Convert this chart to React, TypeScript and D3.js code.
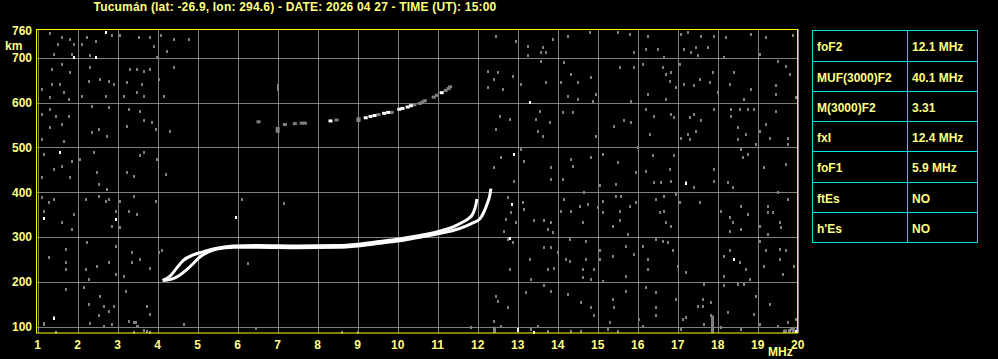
import React from "react";
import * as d3 from "d3";

const TITLE = "Tucumán (lat: -26.9, lon: 294.6) - DATE: 2026 04 27 - TIME (UT): 15:00";
const FREQ_TICKS = [1, 2, 3, 4, 5, 6, 7, 8, 9, 10, 11, 12, 13, 14, 15, 16, 17, 18, 19, 20];
const HEIGHT_TICKS = [100, 200, 300, 400, 500, 600, 700];
const TOP_LABEL = 760;

const PARAM_NAMES = ["foF2", "MUF(3000)F2", "M(3000)F2", "fxI", "foF1", "ftEs", "h'Es"];
const PARAM_VALUES = ["12.1 MHz", "40.1 MHz", "3.31", "12.4 MHz", "5.9 MHz", "NO", "NO"];

// Ordinary trace [MHz, km]
const O_TRACE: [number, number][] = [
  [4.12, 203], [4.3, 212], [4.46, 229], [4.64, 248], [4.89, 260], [5.14, 267], [5.48, 275],
  [5.9, 280], [6.5, 281], [7.5, 280], [8.5, 281], [9.0, 284], [9.55, 290], [10.0, 295],
  [10.4, 301], [11.0, 312], [11.4, 323], [11.64, 334], [11.77, 341], [11.89, 354], [11.95, 370], [11.98, 385],
];
// Extraordinary trace
const X_TRACE: [number, number][] = [
  [4.15, 203], [4.35, 206], [4.54, 214], [4.72, 227], [4.89, 241], [5.06, 256], [5.27, 267],
  [5.48, 273], [5.9, 277], [6.5, 277], [7.5, 276], [8.5, 277], [9.0, 280], [9.55, 286], [10.0, 291],
  [10.4, 297], [11.0, 307], [11.4, 315], [11.72, 325], [11.89, 332], [12.06, 341], [12.14, 353],
  [12.24, 375], [12.3, 392], [12.33, 408],
];
// Second hop echoes
const HOP2_STRONG: [number, number][] = [
  [8.32, 559], [9.2, 566], [9.32, 569], [9.42, 571], [9.66, 576], [9.76, 578], [10.04, 585],
  [10.12, 587], [10.25, 590], [10.33, 593], [11.1, 622],
];
const HOP2_WEAK: [number, number][] = [
  [6.52, 557], [7.0, 542], [7.0, 536], [7.18, 551], [7.43, 553], [7.6, 554], [7.68, 554],
  [8.47, 561], [9.02, 560], [9.02, 564], [9.52, 573], [9.85, 578], [10.42, 595], [10.55, 598],
  [10.62, 601], [10.68, 604], [10.9, 612], [10.98, 616], [11.2, 627], [11.27, 631], [11.31, 635],
];

// Background noise echoes [MHz, km]
const NOISE_GRAY: [number, number][] = [
  [1.29, 755], [1.58, 746], [1.79, 742], [1.47, 731], [1.87, 731], [1.37, 708], [1.83, 708], [2.29, 706],
  [2.08, 731], [2.21, 746], [2.42, 738], [2.83, 751], [3.04, 751], [3.5, 746], [3.87, 727], [3.79, 746],
  [4.06, 751], [4.37, 742], [4.75, 742], [3.96, 701], [4.21, 716], [1.33, 675], [1.58, 686], [1.79, 667],
  [1.33, 641], [1.54, 641], [1.08, 630], [1.62, 623], [1.75, 608], [1.29, 612], [2.29, 679], [2.25, 649],
  [2.54, 653], [2.75, 649], [2.87, 641], [2.67, 615], [2.08, 615], [3.29, 675], [3.46, 675], [3.62, 671],
  [3.79, 675], [3.21, 645], [3.46, 623], [3.58, 641], [3.62, 615], [3.12, 615], [4.0, 653], [4.12, 615],
  [4.37, 679], [1.29, 586], [1.08, 574], [1.42, 571], [1.75, 571], [1.58, 552], [1.29, 545], [1.08, 519],
  [1.62, 515], [2.33, 593], [2.75, 589], [2.33, 534], [2.5, 541], [2.71, 526], [3.25, 586], [3.54, 582],
  [3.21, 548], [3.62, 560], [3.92, 541], [3.83, 556], [4.29, 537], [1.12, 485], [1.58, 459], [1.83, 470],
  [1.37, 452], [1.79, 433], [1.08, 433], [2.46, 444], [2.04, 474], [2.37, 489], [2.5, 418], [2.71, 407],
  [3.54, 482], [3.62, 489], [3.21, 444], [3.37, 437], [3.96, 474], [4.17, 441], [1.08, 389], [1.25, 378],
  [1.12, 359], [1.37, 385], [1.87, 351], [1.58, 333], [1.83, 318], [2.17, 385], [2.5, 392], [2.67, 381],
  [2.75, 385], [2.92, 359], [2.83, 325], [3.04, 381], [3.25, 359], [3.46, 351], [3.04, 322], [3.37, 392],
  [3.92, 381], [1.25, 255], [1.67, 273], [1.67, 244], [1.67, 229], [2.21, 288], [2.46, 236], [2.17, 229],
  [2.25, 206], [2.75, 244], [2.92, 281], [2.92, 218], [3.33, 266], [3.33, 244], [3.54, 251], [3.79, 232],
  [3.12, 214], [4.0, 266], [4.08, 270], [1.67, 184], [1.12, 106], [1.37, 121], [2.12, 188], [2.25, 151],
  [2.54, 169], [2.62, 147], [2.75, 136], [2.87, 147], [2.5, 125], [3.17, 180], [3.25, 113], [3.42, 110],
  [3.71, 147], [3.79, 128], [3.46, 102], [4.62, 106], [3.71, 91],
  [6.08, 385], [7.13, 377], [6.23, 243], [6.98, 640], [6.98, 635], [6.98, 630],
  [1.12, 108], [1.43, 89], [2.27, 108], [2.64, 102], [2.83, 106], [3.39, 111], [3.47, 102], [3.39, 89],
  [3.64, 93], [3.77, 89], [4.62, 106], [6.43, 96], [8.57, 89], [8.97, 89], [11.81, 99],
  [12.43, 749], [12.93, 738], [13.23, 727], [13.6, 723], [13.85, 742], [13.68, 712], [13.56, 712], [13.23, 705],
  [14.14, 690], [14.23, 749], [14.77, 757], [15.48, 757], [15.77, 753], [15.89, 712], [12.23, 671], [12.48, 667],
  [12.85, 660], [12.23, 634], [12.39, 653], [12.6, 630], [13.06, 641], [13.56, 693], [13.68, 645], [14.06, 645],
  [14.31, 664], [14.48, 645], [14.81, 656], [14.93, 619], [14.23, 615], [14.48, 608], [14.85, 604], [15.81, 604],
  [15.89, 679], [15.52, 679], [12.52, 571], [12.77, 563], [12.43, 541], [13.43, 563], [13.52, 582], [13.77, 556],
  [13.48, 537], [13.6, 526], [14.1, 578], [14.35, 578], [14.93, 526], [15.39, 548], [15.64, 560], [15.81, 556],
  [15.98, 500], [13.06, 496], [12.56, 478], [12.39, 456], [12.89, 426], [13.14, 470], [13.81, 456], [13.81, 429],
  [14.1, 429], [14.31, 474], [14.35, 459], [14.81, 478], [15.1, 485], [15.48, 467], [15.02, 415], [15.93, 444],
  [15.43, 418], [12.73, 389], [12.81, 355], [12.68, 340], [12.93, 333], [12.64, 314], [13.1, 378], [13.14, 363],
  [13.39, 337], [13.64, 337], [13.81, 333], [13.85, 311], [13.73, 318], [14.06, 359], [14.14, 385], [14.31, 359],
  [14.52, 370], [14.64, 400], [14.73, 374], [14.6, 333], [14.98, 366], [15.1, 381], [15.1, 355], [15.35, 325],
  [15.43, 392], [15.56, 392], [15.77, 370], [15.93, 378], [15.52, 359], [15.52, 337], [15.73, 307], [12.73, 296],
  [12.85, 288], [13.64, 277], [13.81, 277], [13.27, 251], [13.98, 266], [14.18, 251], [14.27, 247], [14.68, 251],
  [14.6, 229], [14.89, 229], [14.27, 296], [14.68, 292], [15.02, 270], [15.68, 281], [15.89, 262], [15.35, 258],
  [15.02, 251], [12.77, 229], [13.31, 206], [13.73, 229], [13.89, 232], [14.6, 210], [14.81, 206], [15.1, 203],
  [15.68, 214], [12.43, 169], [12.48, 158], [12.73, 143], [12.39, 113], [13.18, 177], [13.64, 192], [13.81, 180],
  [14.23, 173], [14.56, 154], [14.81, 143], [14.89, 125], [15.35, 162], [15.39, 143], [15.27, 110], [15.68, 180],
  [16.0, 117], [12.56, 102], [13.31, 95], [13.48, 102], [13.73, 91], [14.31, 91], [14.56, 91], [15.23, 95],
  [15.48, 91],
  [16.22, 749], [17.06, 753], [17.22, 757], [17.43, 723], [17.56, 749], [17.89, 749], [18.18, 746], [18.81, 753],
  [19.18, 746], [19.85, 751], [16.18, 720], [16.47, 720], [16.64, 701], [17.14, 720], [17.31, 712], [17.47, 705],
  [17.72, 723], [18.14, 701], [19.02, 708], [19.47, 693], [19.68, 682], [16.1, 686], [16.6, 679], [16.68, 664],
  [16.81, 667], [17.02, 686], [16.77, 649], [16.93, 634], [17.14, 641], [17.39, 638], [17.52, 653], [17.77, 645],
  [17.85, 667], [17.98, 623], [18.27, 641], [18.39, 667], [18.81, 630], [18.64, 608], [19.43, 638], [19.43, 619],
  [19.77, 664], [19.93, 612], [16.22, 619], [16.68, 608], [16.18, 586], [16.39, 571], [16.81, 574], [16.89, 567],
  [17.27, 567], [17.39, 574], [17.56, 560], [17.22, 530], [17.27, 519], [17.06, 522], [17.43, 537], [17.89, 586],
  [18.31, 586], [18.52, 586], [18.72, 586], [18.89, 586], [18.31, 571], [18.47, 545], [18.47, 519], [18.68, 530],
  [18.93, 508], [19.02, 537], [19.18, 552], [19.27, 522], [19.43, 582], [19.72, 522], [19.72, 508], [16.27, 530],
  [16.89, 482], [16.35, 482], [16.18, 448], [16.39, 422], [16.56, 422], [16.81, 426], [16.77, 452], [17.18, 422],
  [17.39, 411], [17.89, 452], [17.89, 426], [18.22, 422], [18.35, 411], [18.56, 496], [18.72, 485], [18.6, 478],
  [19.14, 456], [19.68, 463], [16.64, 392], [16.43, 385], [16.52, 355], [16.64, 359], [16.68, 333], [16.81, 325],
  [16.93, 396], [17.02, 378], [17.52, 378], [18.06, 359], [18.27, 344], [18.35, 333], [18.56, 318], [18.56, 370],
  [18.72, 351], [19.22, 355], [19.35, 355], [19.22, 370], [19.52, 333], [19.56, 322], [19.22, 307], [19.47, 400],
  [19.72, 385], [19.02, 325], [18.27, 314], [16.43, 296], [16.6, 292], [16.72, 288], [16.85, 270], [16.1, 281],
  [16.22, 251], [16.22, 229], [16.97, 236], [17.18, 221], [17.64, 195], [18.14, 258], [18.14, 214], [18.27, 270],
  [18.52, 244], [18.68, 229], [18.77, 206], [19.02, 292], [19.18, 270], [19.14, 236], [19.52, 273], [19.52, 251],
  [19.68, 270], [19.89, 236], [19.6, 218], [16.18, 188], [16.43, 177], [16.43, 143], [16.43, 125], [16.93, 162],
  [17.1, 117], [17.18, 121], [17.47, 147], [17.6, 162], [17.6, 147], [17.81, 154], [17.81, 125], [18.14, 192],
  [18.22, 132], [18.47, 195], [18.64, 195], [18.93, 169], [18.89, 128], [19.27, 151], [19.47, 102], [19.72, 110],
  [19.93, 117], [16.1, 102], [17.06, 95], [17.64, 106], [18.06, 99], [18.56, 95], [19.02, 106], [19.64, 91],
  [19.81, 95],
];
const NOISE_WHITE: [number, number][] = [
  [1.87, 701], [2.43, 701], [2.68, 757], [1.52, 489], [1.12, 342], [2.92, 340], [1.37, 119], [5.93, 345],
  [12.88, 485], [12.83, 374], [12.77, 297], [13.28, 602], [12.98, 95], [13.38, 89], [12.97, 93],
  [17.18, 420], [18.37, 251], [19.92, 91],
];
// Vertical noise streaks [MHz, km from, km to]
const STREAKS: [number, number, number][] = [
  [17.82, 86, 125], [12.39, 86, 100], [19.65, 86, 94], [19.75, 86, 95], [19.85, 86, 98], [19.95, 86, 100],
];

const W = 998;
const H = 359;
const YELLOW = "#ffff80";
const BORDER = "#ffff00";
const GRID = "#808080";
const CYAN = "#00e4e4";
const FONT = "'Liberation Sans', Arial, sans-serif";

export default function App() {
  const x = d3.scaleLinear().domain([1, 20]).range([37.7, 797.7]);
  const y = d3.scaleLinear().domain([100, 700]).range([326.7, 57.7]);
  const yBottom = 333;
  const yTop = y(TOP_LABEL) - 1.5;

  const line = d3
    .line<[number, number]>()
    .x((d) => x(d[0]))
    .y((d) => y(d[1]))
    .curve(d3.curveMonotoneX);

  const tableX0 = 812.5;
  const tableX1 = 977.5;
  const tableMid = 907.5;
  const rowEdges = [30.5, 61.5, 91.5, 121.5, 151.5, 182.5, 212.5, 242.5];

  return (
    <svg
      width={W}
      height={H}
      style={{ position: "absolute", left: 0, top: 0, background: "#000" }}
      fontFamily={FONT}
      fontWeight="bold"
    >
      <rect x={0} y={0} width={W} height={H} fill="#000" />
      <text x={295} y={11} fill={YELLOW} fontSize={12} letterSpacing={0.2} textAnchor="middle">
        {TITLE}
      </text>

      {/* grid */}
      {FREQ_TICKS.map((f) => (
        <line key={"gv" + f} x1={Math.round(x(f)) + 0.5} x2={Math.round(x(f)) + 0.5} y1={yTop} y2={yBottom} stroke={GRID} strokeWidth={1} />
      ))}
      {HEIGHT_TICKS.map((h) => (
        <line key={"gh" + h} x1={36} x2={798} y1={Math.round(y(h)) + 0.5} y2={Math.round(y(h)) + 0.5} stroke={GRID} strokeWidth={1} />
      ))}

      {/* noise */}
      {NOISE_GRAY.map((d, i) => (
        <rect key={"ng" + i} x={Math.round(x(d[0]))} y={Math.round(y(d[1])) - 1} width={2} height={3} fill={GRID} />
      ))}
      {STREAKS.map((d, i) => (
        <rect key={"st" + i} x={Math.round(x(d[0]))} y={y(d[2])} width={3} height={Math.min(y(d[1]), yBottom) - y(d[2])} fill={GRID} />
      ))}
      {NOISE_WHITE.map((d, i) => (
        <rect key={"nw" + i} x={Math.round(x(d[0]))} y={Math.round(y(d[1])) - 1} width={2} height={3} fill="#fff" />
      ))}

      {/* second hop */}
      {HOP2_WEAK.map((d, i) => (
        <rect key={"hw" + i} x={x(d[0]) - 2} y={y(d[1]) - 1.5} width={4} height={3} fill={GRID} />
      ))}
      {HOP2_STRONG.map((d, i) => (
        <rect key={"hs" + i} x={x(d[0]) - 2} y={y(d[1]) - 1.5} width={4} height={3} fill="#fff" />
      ))}

      {/* traces */}
      <path d={line(X_TRACE) || ""} fill="none" stroke="#fff" strokeWidth={3} />
      <path d={line(O_TRACE) || ""} fill="none" stroke="#fff" strokeWidth={3} />

      {/* frame */}
      <rect x={36.5} y={29.5} width={761} height={303.5} fill="none" stroke={BORDER} strokeWidth={1} />

      {/* y labels */}
      {HEIGHT_TICKS.map((h) => (
        <text key={"yl" + h} x={32} y={y(h)} dy="0.36em" fill={YELLOW} fontSize={12} textAnchor="end">
          {h}
        </text>
      ))}
      <text x={32} y={y(TOP_LABEL)} dy="0.36em" fill={YELLOW} fontSize={12} textAnchor="end">
        {TOP_LABEL}
      </text>
      <text x={5} y={45.5} dy="0.36em" fill={YELLOW} fontSize={12}>
        km
      </text>

      {/* x labels */}
      {FREQ_TICKS.map((f) => (
        <text key={"xl" + f} x={x(f)} y={345} dy="0.36em" fill={YELLOW} fontSize={12} textAnchor="middle">
          {f}
        </text>
      ))}
      <text x={768} y={352} dy="0.36em" fill={YELLOW} fontSize={12}>
        MHz
      </text>

      {/* parameter table */}
      <rect x={tableX0} y={rowEdges[0]} width={tableX1 - tableX0} height={rowEdges[rowEdges.length - 1] - rowEdges[0]} fill="none" stroke={CYAN} />
      <line x1={tableMid} x2={tableMid} y1={rowEdges[0]} y2={rowEdges[rowEdges.length - 1]} stroke={CYAN} />
      {rowEdges.slice(1, -1).map((ry, i) => (
        <line key={"rl" + i} x1={tableX0} x2={tableX1} y1={ry} y2={ry} stroke={CYAN} />
      ))}
      {PARAM_NAMES.map((n, i) => (
        <text key={"pn" + i} x={817} y={(rowEdges[i] + rowEdges[i + 1]) / 2 + 1} dy="0.36em" fill={YELLOW} fontSize={12}>
          {n}
        </text>
      ))}
      {PARAM_VALUES.map((v, i) => (
        <text key={"pv" + i} x={912} y={(rowEdges[i] + rowEdges[i + 1]) / 2 + 1} dy="0.36em" fill={YELLOW} fontSize={12}>
          {v}
        </text>
      ))}
    </svg>
  );
}
